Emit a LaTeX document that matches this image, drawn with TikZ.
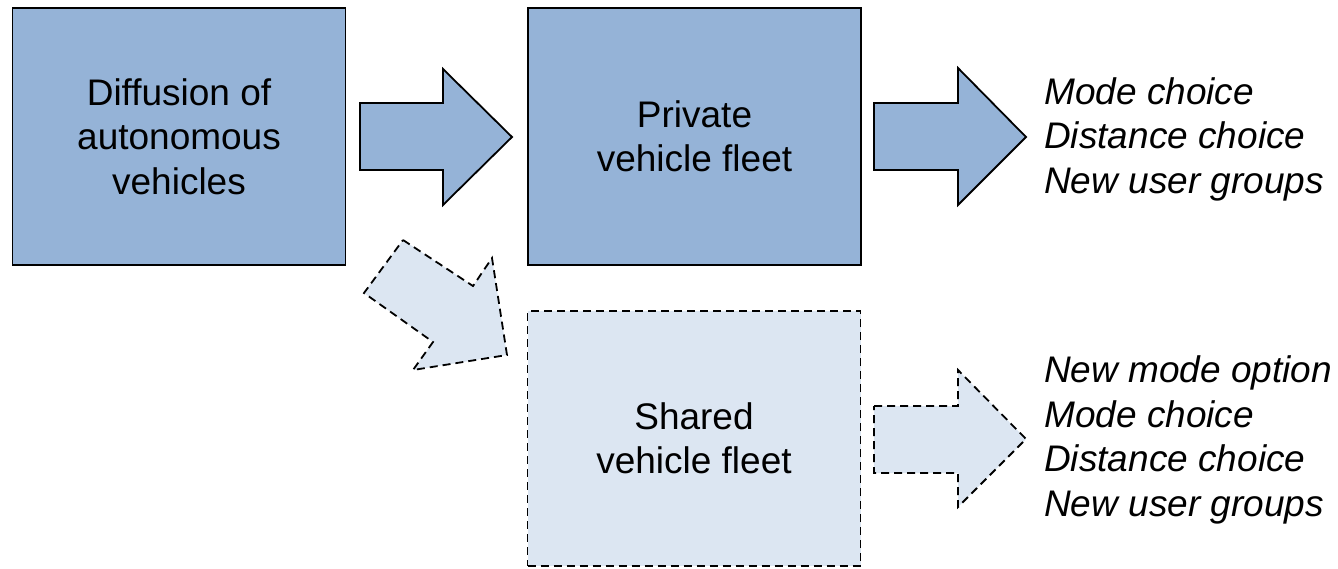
\documentclass[tikz,border=0pt]{standalone}
\usepackage{fontspec}
\setmainfont{Liberation Sans}
\definecolor{dark}{HTML}{95B3D7}
\definecolor{light}{HTML}{DCE6F2}
\begin{document}
\begin{tikzpicture}[x=1pt,y=-1pt,
  lbl/.style={font=\fontsize{37}{44.5}\selectfont},
  solidbox/.style={draw=black,line width=1.8pt,fill=dark,minimum width=333pt,minimum height=257pt,inner sep=0pt,align=center,lbl},
  dashbox/.style={solidbox,fill=light,dash pattern=on 8pt off 5pt},
  blockarrow/.style={draw=black,line width=1.8pt,fill=dark,line join=miter},
  dasharrow/.style={blockarrow,fill=light,dash pattern=on 8pt off 5pt},
  outlist/.style={font=\fontsize{37}{44.5}\selectfont\itshape,anchor=west,align=left,inner sep=0pt}]
\useasboundingbox (0,0) rectangle (1338,568);

\node[solidbox] (diff) at (179,136.5) {Diffusion of\\autonomous\\vehicles};
\node[solidbox] (priv) at (694.5,136.5) {Private\\vehicle fleet};
\node[dashbox, minimum height=255pt] (shared) at (694,438.5) {Shared\\vehicle fleet};

\draw[blockarrow] (360,103) -- (443,103) -- (443,69) -- (512,137) -- (443,205) -- (443,170) -- (360,170) -- cycle;
\draw[blockarrow] (874,103) -- (958,103) -- (958,68) -- (1026,137) -- (958,205) -- (958,170) -- (874,170) -- cycle;
\draw[dasharrow] (874,406) -- (958,406) -- (958,370) -- (1026,439) -- (958,507) -- (958,473) -- (874,473) -- cycle;
\draw[dasharrow] (403,240) -- (473,286) -- (492,258) -- (507,355) -- (413,370) -- (433,342) -- (364,293) -- cycle;

\node[outlist] (privout) at (1044,139) {Mode choice\\Distance choice\\New user groups};
\node[outlist] (sharedout) at (1044,440) {New mode option\\Mode choice\\Distance choice\\New user groups};
\end{tikzpicture}
\end{document}
